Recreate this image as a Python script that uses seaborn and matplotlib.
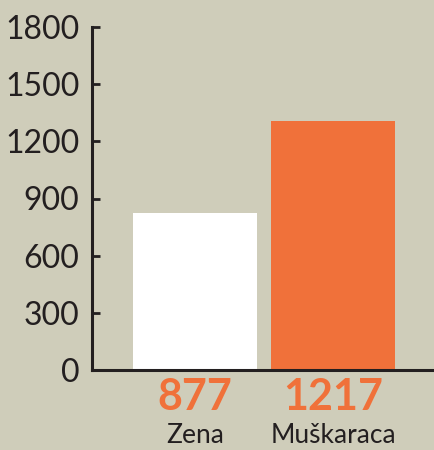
import matplotlib
matplotlib.use("Agg")
import matplotlib.pyplot as plt
import matplotlib.transforms as mtransforms
import seaborn as sns

# data
categories = ["Zena", "Muškaraca"]
bar_heights = [824, 1307]
value_labels = ["877", "1217"]
bar_colors = ["#ffffff", "#f0713a"]
y_ticks = [0, 300, 600, 900, 1200, 1500, 1800]

BG = "#cfcdba"
INK = "#231f20"
ORANGE = "#f0713a"

sns.set_style("white")
plt.rcParams["font.family"] = ["Lato", "DejaVu Sans"]

fig = plt.figure(figsize=(4.35, 4.5), dpi=100, facecolor=BG)
ax = fig.add_axes([92 / 435, 80 / 450, 1 - 92 / 435, 343 / 450])
ax.set_facecolor(BG)

sns.barplot(x=categories, y=bar_heights, hue=categories, palette=bar_colors,
            width=0.9, legend=False, saturation=1, ax=ax, linewidth=0)

ax.set_xlim(-0.746, 1.739)
ax.set_ylim(0, 1800)
ax.set_yticks(y_ticks)
ax.set_yticklabels([str(t) for t in y_ticks], fontsize=23, color=INK)
ax.tick_params(axis="y", left=True, direction="in", length=6, width=2,
               color=INK, pad=9)
ax.tick_params(axis="x", bottom=False, length=0, pad=0)
ax.set_xticks(range(len(categories)))
ax.set_xticklabels([])
ax.set_xlabel("")
ax.set_ylabel("")

for side in ["top", "right"]:
    ax.spines[side].set_visible(False)
for side in ["left", "bottom"]:
    ax.spines[side].set_color(INK)
    ax.spines[side].set_linewidth(2.2)
    ax.spines[side].set_zorder(5)

trans = mtransforms.blended_transform_factory(ax.transData, ax.transAxes)
for i, (cat, val) in enumerate(zip(categories, value_labels)):
    ax.text(i, -0.08, val, transform=trans, ha="center", va="center",
            fontsize=31, fontweight="bold", color=ORANGE, clip_on=False)
    ax.text(i, -0.192, cat, transform=trans, ha="center", va="center",
            fontsize=19, color=INK, clip_on=False)

fig.savefig("out.png", dpi=100, facecolor=BG)
